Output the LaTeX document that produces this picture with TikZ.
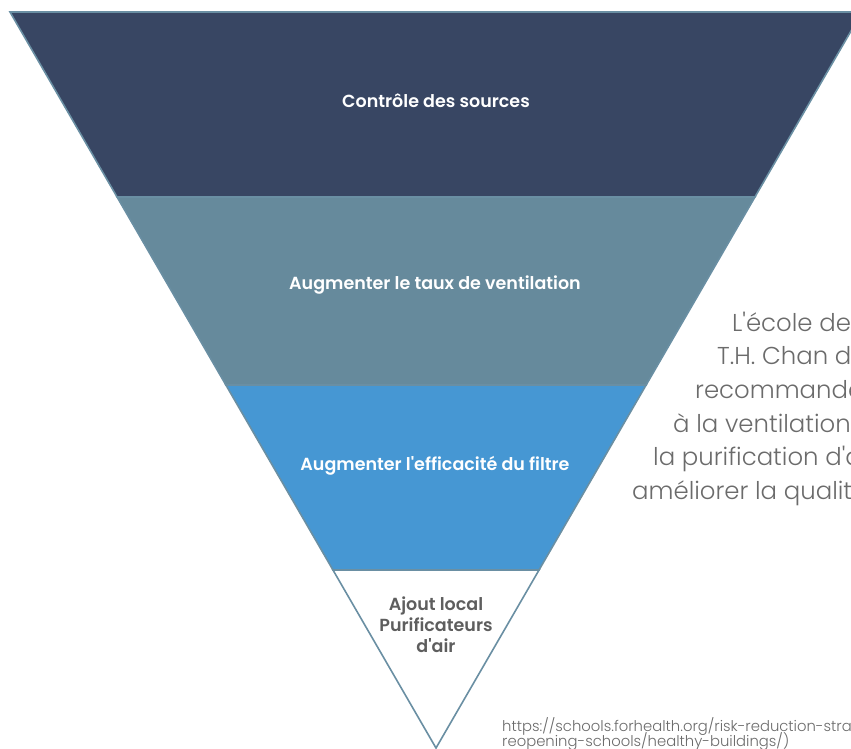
\documentclass[tikz,border=0pt]{standalone}
\usepackage{fontspec}
\setmainfont{Poppins}[BoldFont={Poppins SemiBold}]
\newfontfamily\lightfont{Poppins Light}
\usetikzlibrary{calc}
\definecolor{navy}{HTML}{384663}
\definecolor{slate}{HTML}{668A9C}
\definecolor{bandblue}{HTML}{4697D3}
\definecolor{edge}{HTML}{6A8FA3}
\definecolor{txt}{HTML}{6B6B6B}
\definecolor{labgray}{HTML}{5E5E5E}
\newcommand{\sq}{\textquotesingle}
\begin{document}
\begin{tikzpicture}[x=1pt,y=-1pt,
  band/.style={draw=edge, line width=1.6pt, line join=miter},
  lab/.style={font=\bfseries\fontsize{17.5}{21}\selectfont, text=white, align=center, inner sep=0pt},
  side/.style={font=\lightfont\fontsize{24.4}{30}\selectfont, text=txt, anchor=base west, inner sep=0pt},
  url/.style={font=\lightfont\fontsize{14.8}{15}\selectfont, text=txt, anchor=base west, inner sep=0pt}]
\useasboundingbox (0,0) rectangle (851,748);
\clip (0,0) rectangle (851,748);
\coordinate (A) at (10,12);
\coordinate (B) at (862,12);
\coordinate (C) at (436,748);
\coordinate (L1) at ($(A)!0.2514!(C)$);
\coordinate (R1) at ($(B)!0.2514!(C)$);
\coordinate (L2) at ($(A)!0.5068!(C)$);
\coordinate (R2) at ($(B)!0.5068!(C)$);
\coordinate (L3) at ($(A)!0.7582!(C)$);
\coordinate (R3) at ($(B)!0.7582!(C)$);
\draw[band, fill=navy] (A) -- (B) -- (R1) -- (L1) -- cycle;
\draw[band, fill=slate] (L1) -- (R1) -- (R2) -- (L2) -- cycle;
\draw[band, fill=bandblue] (L2) -- (R2) -- (R3) -- (L3) -- cycle;
\draw[band, fill=white] (L3) -- (R3) -- (C) -- cycle;
\node[lab] (n1) at (436,101) {Contrôle des sources};
\node[lab] (n2) at (435,285) {Augmenter le taux de ventilation};
\node[lab] (n3) at (435,466) {Augmenter l\sq efficacité du filtre};
\node[lab, text=labgray] (n4) at (436,625) {Ajout local\\Purificateurs\\d\sq air};
\node[side] (t1) at (732,331) {L\sq école de};
\node[side] (t2) at (717,364.6) {T.H. Chan d};
\node[side] (t3) at (695,398) {recommande};
\node[side] (t4) at (673,432) {à la ventilation};
\node[side] (t5) at (653,465.4) {la purification d\sq a};
\node[side] (t6) at (632,499) {améliorer la qualit};
\node[url] (u1) at (502,731) {https://schools.forhealth.org/risk-reduction-stra};
\node[url] (u2) at (502,746.5) {reopening-schools/healthy-buildings/)};
\end{tikzpicture}
\end{document}
